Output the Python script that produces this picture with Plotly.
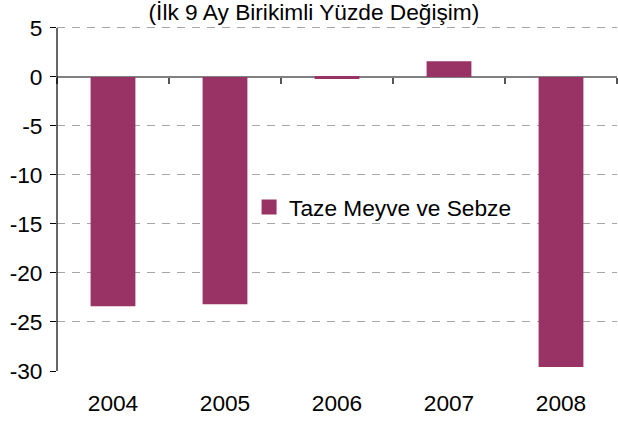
import plotly.graph_objects as go

years = ["2004", "2005", "2006", "2007", "2008"]
values = [-23.4, -23.2, -0.2, 1.6, -29.6]
series_name = "Taze Meyve ve Sebze"
title_text = "(İlk 9 Ay Birikimli Yüzde Değişim)"
y_ticks = [5, 0, -5, -10, -15, -20, -25, -30]

FONT = "Liberation Sans, Arial, sans-serif"
FS = 22.7
BAR_COLOR = "#993366"

fig = go.Figure()
fig.add_trace(go.Bar(x=years, y=values, name=series_name, showlegend=False,
                     marker=dict(color=BAR_COLOR, line=dict(width=0))))
# legend entry with a larger square swatch
fig.add_trace(go.Scatter(x=[None], y=[None], name=series_name, mode="markers",
                         marker=dict(symbol="square", size=15, color=BAR_COLOR),
                         showlegend=True, hoverinfo="skip"))
fig.add_trace(go.Scatter(x=years, y=[None] * len(years), xaxis="x2",
                         showlegend=False, hoverinfo="skip"))

fig.update_layout(
    width=618, height=421,
    margin=dict(l=57, r=1, t=26, b=50),
    paper_bgcolor="white", plot_bgcolor="white",
    font=dict(family=FONT, size=FS, color="black"),
    bargap=0.6,
    title=dict(text=title_text, x=0.508, xanchor="center",
               yref="container", y=1 - 12 / 421, yanchor="middle",
               font=dict(family=FONT, size=FS, color="black")),
    showlegend=True,
    legend=dict(x=0.343, xanchor="left", y=0.475, yanchor="middle",
                bgcolor="rgba(0,0,0,0)", font=dict(family=FONT, size=FS)),
    xaxis=dict(type="category", showline=False, ticks="", showgrid=False,
               ticklabelstandoff=16, tickfont=dict(size=FS)),
    xaxis2=dict(type="category", matches="x", overlaying="x", anchor="free",
                position=30.0 / 35.2, showline=False, ticks="outside",
                tickson="boundaries", ticklen=6, tickcolor="#555555",
                tickwidth=1.5, showticklabels=False, showgrid=False),
    yaxis=dict(range=[-30, 5.2], tickvals=y_ticks,
               ticktext=[str(v) for v in y_ticks],
               ticks="outside", ticklen=6,
               tickcolor="black", tickwidth=1, showline=False,
               showgrid=True,
               gridcolor="#a6a6a6", gridwidth=1, griddash="8px,7px",
               zeroline=True, zerolinecolor="#808080", zerolinewidth=1.5,
               ticklabelstandoff=3, tickfont=dict(size=FS)),
)

# y axis line spanning the tick range only (5 to -30), as in the source chart
fig.add_shape(type="line", xref="paper", yref="y", x0=0, x1=0,
              y0=min(y_ticks), y1=max(y_ticks),
              line=dict(color="black", width=1.2), layer="above")

fig.write_html("out.html", config={"displayModeBar": False},
               post_script="document.body.style.margin='0';document.body.style.overflow='hidden';")
